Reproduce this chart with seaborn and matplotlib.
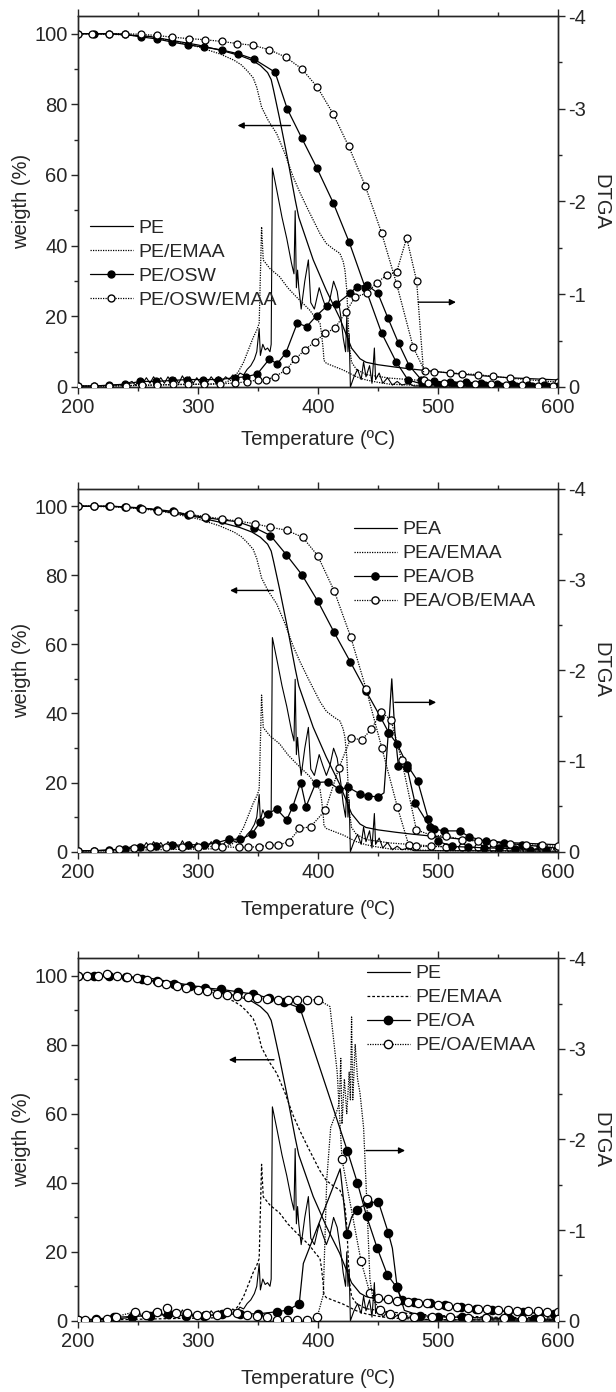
import matplotlib
matplotlib.use("Agg")
import matplotlib.pyplot as plt
from matplotlib.lines import Line2D
from matplotlib.ticker import MultipleLocator
import seaborn as sns

sns.set_style("ticks")
plt.rcParams['font.family'] = ['Liberation Sans', 'DejaVu Sans']
plt.rcParams['font.size'] = 14.5

# ---------------- shared reference curves (PE / PEA and PE/EMAA) ----------------
pe_w_T = [200,230,260,280,300,320,335,345,352,358,361,363,368,375,381,384,390,396,407,418,428,435,440,450,465,480,500,520,560,600]
pe_w = [100,99.9,99.2,98,96.8,95.2,93.8,92.5,91,89,87,84,76,64,53,48,42,36,27.3,19.6,11,8,7,6.3,5.6,5,4.3,3.6,2.6,2]

pe_d_T = [200,215,230,240,245,248,251,254,257,260,263,266,269,272,275,278,281,284,287,290,293,296,299,302,305,308,311,314,317,320,323,326,329,332,335,
          338,341,344,347,349,351,352,354,356,358,360,361,362,366,370,374,378,380,381,382,383,384,386,
          389,392,394,397,401,404,407,410,413,416,419,421,423,424,425,426,427,
          430,433,436,438,440,443,445,447,448,451,454,458,462,466,470,475,480,500,550,600]
pe_d = [-0.01,-0.01,-0.02,-0.03,
        -0.06,-0.02,-0.08,-0.04,-0.10,-0.04,-0.11,-0.05,-0.10,-0.04,-0.11,-0.05,-0.10,-0.04,-0.12,-0.05,-0.11,-0.04,-0.10,-0.04,-0.10,-0.05,-0.11,-0.06,-0.11,-0.06,-0.11,-0.08,-0.13,-0.10,-0.15,
        -0.13,-0.19,-0.23,-0.30,-0.38,-0.63,-0.34,-0.46,-0.40,-0.42,-0.38,-0.46,-2.36,-2.10,-1.83,-1.60,-1.33,-1.22,-1.90,-1.07,-1.26,-1.07,-0.84,
        -1.14,-1.37,-0.91,-0.84,-1.07,-0.95,-0.84,-0.95,-1.14,-1.03,-0.76,-0.53,-0.38,-0.76,-0.38,-0.57,0.0,
        -0.11,-0.19,-0.08,-0.27,-0.11,-0.23,-0.04,-0.42,-0.08,-0.15,-0.04,-0.10,-0.02,-0.06,-0.02,-0.04,-0.01,-0.01,-0.01,-0.004]

emaa_w_T = [200,230,260,280,300,318,330,336,341,346,349,353,358.6,365.6,372.5,379.4,385,392,401.7,407,413,418.3,421,422.5,424,425,426,428,432,440,460,480,500,550,600]
emaa_w = [100,99.8,99.2,97.8,96.3,94.3,92.5,91.2,89.5,87.5,84.8,79.2,75.4,71.7,66,59.4,55,50,43.4,40.6,39,37.8,35.5,33,27.4,20,12,7,5,3.5,2.5,2,1.5,1,0.8]

emaa_d_T = [200,230,260,290,310,320,328,333.6,338,342,346,349,351,353,354.4,360,368,375,382,388,393,398,401.7,403,404.4,405,407,412,421,432,440,450,460,480,500,550,600]
emaa_d = [-0.008,-0.011,-0.019,-0.027,-0.03,-0.038,-0.076,-0.164,-0.267,-0.4,-0.533,-0.613,-0.686,-1.726,-1.368,-1.276,-1.189,-1.067,-0.971,-0.895,-0.83,-0.743,-0.686,-0.571,-0.4,-0.286,-0.255,-0.229,-0.183,-0.11,-0.076,-0.05,-0.03,-0.019,-0.011,-0.008,-0.004]

# ---------------- panel 1: PE/OSW, PE/OSW/EMAA ----------------
osw_w_T = [200,213,226,239,252.5,266,278.7,292,305,319.7,333.6,346.7,364.2,374.4,386.4,398.9,412.6,426,439.5,453,465,475,487,500,513,526,539,552,565,578,591]
osw_w = [100,100,100,99.8,99.1,98.5,97.6,96.8,96.2,95.4,94.3,92.8,89.1,78.7,70.5,62.1,52.2,41,28,15.3,7.2,2,0.8,0.7,0.6,0.5,0.5,0.4,0.4,0.3,0.3]
osw_d_T = [200,213,226,239,252,265,278,291,304,317,331,340,349.4,359.4,366,373.3,382.8,390.6,398.9,407.2,415,426.7,432.2,441,449.9,458.4,467.2,476,486,497,510,523,536,549,562,575,588,600]
osw_d = [-0.01,-0.01,-0.02,-0.03,-0.06,-0.06,-0.07,-0.08,-0.08,-0.08,-0.10,-0.11,-0.14,-0.30,-0.25,-0.37,-0.69,-0.65,-0.77,-0.87,-0.89,-1.01,-1.08,-1.10,-1.01,-0.74,-0.47,-0.23,-0.08,-0.06,-0.05,-0.05,-0.04,-0.03,-0.03,-0.02,-0.02,-0.015]

oswe_w_T = [200,212,226,239,252.5,265.6,278.7,292.5,305.6,319.7,332.8,346,359,373,386.3,399.4,412.5,425.6,439.3,453,465.6,479.4,489,497,510,520,533,546,560,573,587,600]
oswe_w = [100,100,100,100,99.8,99.5,99,98.6,98.3,97.8,97.2,96.7,95.5,93.4,90.1,84.9,77.4,68.1,57,43.6,29.1,11.2,4.5,4.3,4,3.8,3.5,3,2.5,2.1,1.7,1.4]
oswe_d_T = [200,213,226,240,253,266,279,292,305,318,331,341,350.3,356.7,364,373.3,380.8,389,397.5,406,414,423,431,440.6,449,457.2,465.6,473.9,482.2,488.5,492,505,518,531,544,557,570,583,596]
oswe_d = [-0.008,-0.011,-0.011,-0.015,-0.019,-0.023,-0.027,-0.03,-0.03,-0.034,-0.042,-0.057,-0.076,-0.076,-0.11,-0.183,-0.297,-0.4,-0.488,-0.579,-0.632,-0.804,-0.971,-1.01,-1.124,-1.204,-1.242,-1.608,-1.143,-0.072,-0.046,-0.038,-0.034,-0.03,-0.027,-0.023,-0.019,-0.015,-0.011]

# ---------------- panel 2: PEA/OB, PEA/OB/EMAA ----------------
ob_w_T = [200,213,226,239,252,266,279,292,307,320,333,347,360.4,373.5,386.5,400,413.4,427,440,452,459,466,474.5,483,492,497,505,518,526,540,555,570,585,600]
ob_w = [100,100,100,99.8,99.5,99,98.5,97.5,96.7,96,95.5,93.8,91.5,86,80.2,72.4,63.5,54.9,46.5,39,34.4,31.1,25,20.5,9.4,6.5,6,6,4.3,3,2.5,2,1.5,1]
ob_d_T = [200,213,226,239,252,265,278,292,305,315,326,335,344.7,351.7,358,365.6,373.9,379,385.6,390,398.3,408.6,417.8,425.3,435,442,450.3,455,458.6,461.5,464,467,474.4,480.8,493.3,500,512,525,538,551,564,577,590]
ob_d = [-0.008,-0.011,-0.019,-0.03,-0.046,-0.057,-0.069,-0.076,-0.076,-0.095,-0.137,-0.137,-0.19,-0.324,-0.419,-0.469,-0.35,-0.495,-0.762,-0.495,-0.762,-0.77,-0.686,-0.709,-0.636,-0.61,-0.606,-0.648,-1.31,-1.905,-1.333,-0.945,-0.918,-0.541,-0.274,-0.114,-0.057,-0.05,-0.042,-0.038,-0.03,-0.023,-0.019]

obe_w_T = [200,213.7,226.8,240,253,266.8,280,293,306,320,333.2,347.3,360.4,374,387.2,399.7,413.6,427.4,440,453.3,466.1,475.6,482,494,507,520,533,546,560,573,587,600]
obe_w = [100,100,100,99.7,99.2,98.7,98.3,97.6,97,96.3,95.7,94.9,93.9,93,91,85.7,75.4,62,47.2,29.9,13,1.9,1.5,1.5,1.4,1.3,1.2,1.1,1,0.9,0.8,0.7]
obe_d_T = [200,213,226,234,247,260,273,287,300,314,320,334,342,351,359.4,367,375.8,384.6,393.8,406.2,417.3,427.5,436.3,444.5,452.7,460.9,469.7,482,494,507,520,533,546,560,573,587,600]
obe_d = [-0.008,-0.011,-0.011,-0.027,-0.038,-0.046,-0.05,-0.053,-0.053,-0.057,-0.053,-0.046,-0.05,-0.053,-0.072,-0.072,-0.11,-0.255,-0.274,-0.457,-0.918,-1.257,-1.23,-1.349,-1.543,-1.448,-1.01,-0.24,-0.183,-0.171,-0.133,-0.114,-0.095,-0.084,-0.076,-0.069,-0.057]

# ---------------- panel 3: PE/OA, PE/OA/EMAA ----------------
oa_w_T = [200,213,226,240,253,266,280,293,306,319,333,346,359,372,385,424.4,432.8,440.6,449.4,457.8,465.6,470,480,493,506,519,532,545,558,571,584,597]
oa_w = [100,100,100,99.5,99,98.3,97.5,96.9,96.4,96,95.3,94.6,93.5,92.3,90.6,49.3,40,30.2,21,13.3,9.7,6,5.5,5,4.5,4,3.5,3,2.8,2.5,2.2,2]
oa_d_T = [200,215,230,245,260,275,290,305,320,335,350,365.6,375.3,384.4,387.8,418.5,421,424,428,432.2,436,441.9,450.3,458.6,462,466,472,485,500,520,540,560,580,600]
oa_d = [-0.008,-0.019,-0.038,-0.046,-0.057,-0.069,-0.057,-0.057,-0.069,-0.076,-0.076,-0.099,-0.118,-0.19,-0.632,-1.676,-1.371,-0.96,-1.143,-1.223,-1.257,-1.299,-1.314,-0.971,-0.8,-0.37,-0.114,-0.057,-0.046,-0.038,-0.03,-0.023,-0.019,-0.015]

oae_w_T = [200,207.5,216.3,224.5,232.6,240.8,249,257.1,266.3,273.5,282.6,290.4,299.6,307.7,315.9,324,332.2,341.4,349.2,357.7,366.5,374.7,382.8,391,400.1,410,416,420,435.8,443.3,450,458,466,475,483,491,500,508,516,525,533,541,550,558,566,575,583,591,600]
oae_w = [100,100,100,100.3,100,99.6,99.2,98.6,98.1,97.6,96.9,96.4,95.7,95.4,94.7,94.3,94,93.8,93.5,93.2,93,93,93,93,93,91,72,46.8,17.4,7.9,6.5,6.3,5.8,5.5,5.2,5,4.6,4.3,4,3.7,3.5,3.3,3.1,3,2.9,2.8,2.7,2.6,2.5]
oae_d_T = [200,205.8,215,224,232,247.5,256.7,265.6,273.9,282,290.6,299,307,315.5,323.9,332.2,340.6,349.4,357.2,365.6,374,382.2,390.6,399.4,404.4,
           407.3,410.6,417,418,419,420,422,424,426,427,428,429,431,433,435,438,440.6,443.3,446,452,460,470,480,495,510,525,540,555,570,585,600]
oae_d = [-0.008,-0.008,-0.011,-0.019,-0.046,-0.099,-0.061,-0.099,-0.137,-0.084,-0.084,-0.061,-0.061,-0.061,-0.091,-0.088,-0.061,-0.05,-0.042,-0.008,-0.008,-0.008,-0.008,-0.042,-0.286,
         -1.554,-2.133,-2.362,-2.476,-2.895,-2.171,-2.667,-2.286,-2.743,-2.438,-3.352,-2.438,-3.048,-2.667,-2.514,-2.133,-1.341,-0.457,-0.229,-0.114,-0.076,-0.057,-0.046,-0.038,-0.038,-0.034,-0.03,-0.027,-0.023,-0.019,-0.015]

x_ticks = [200, 300, 400, 500, 600]
w_ticks = [0, 20, 40, 60, 80, 100]
d_ticks = [-4, -3, -2, -1, 0]

DOT = (0, (1, 1))
DASH3 = (0, (2.2, 1.6))
FS = 14.5


def draw(ax, T, v, ls='-', marker=None, face='black', ms=5.0, skip=None, lw=0.9, z=2):
    kw = dict(x=T, y=v, ax=ax, color='black', linewidth=lw, linestyle=ls,
              sort=False, estimator=None, legend=False, zorder=z)
    if marker:
        kw.update(marker=marker, markersize=ms, markerfacecolor=face,
                  markeredgecolor='black', markeredgewidth=0.9)
        if skip:
            kw['markevery'] = [not any(lo < t < hi for lo, hi in skip) for t in T]
    sns.lineplot(**kw)


fig = plt.figure(figsize=(6.16, 13.92), dpi=100)
positions = [[0.1266, 0.7220, 0.7792, 0.2665],
             [0.1266, 0.3882, 0.7792, 0.2606],
             [0.1266, 0.0512, 0.7792, 0.2604]]

panels = [
    dict(labels=['PE', 'PE/EMAA', 'PE/OSW', 'PE/OSW/EMAA'],
         fw=(osw_w_T, osw_w, None), fd=(osw_d_T, osw_d, None),
         ow=(oswe_w_T, oswe_w, None), od=(oswe_d_T, oswe_d, None),
         ems=DOT, ms=5.0, leg=(0.025, 0.452),
         larrow=((377, 74), (333, 74)), rarrow=((483.6, 24), (515, 24)), xl=-0.116),
    dict(labels=['PEA', 'PEA/EMAA', 'PEA/OB', 'PEA/OB/EMAA'],
         fw=(ob_w_T, ob_w, None), fd=(ob_d_T, ob_d, [(453, 458), (460, 466)]),
         ow=(obe_w_T, obe_w, None), od=(obe_d_T, obe_d, None),
         ems=DOT, ms=5.2, leg=(0.575, 0.912),
         larrow=((362.7, 75.6), (326.7, 75.6)), rarrow=((464, 43.2), (498.5, 43.2)), xl=-0.133),
    dict(labels=['PE', 'PE/EMAA', 'PE/OA', 'PE/OA/EMAA'],
         fw=(oa_w_T, oa_w, None),
         fd=(oa_d_T, oa_d, [(386, 423.5), (427, 431), (435, 440), (461, 464), (470, 475)]),
         ow=(oae_w_T, oae_w, [(405, 418)]),
         od=(oae_d_T, oae_d, [(402, 439.5), (441.5, 448)]),
         ems=DASH3, ms=6.0, leg=(0.602, 0.982),
         larrow=((363.3, 75.6), (325.7, 75.6)), rarrow=((440, 49.3), (472.6, 49.3)), xl=-0.133),
]

for pos, p in zip(positions, panels):
    ax = fig.add_axes(pos)
    ax2 = ax.twinx()
    ems = p['ems']
    ms = p['ms']

    # weight curves (left axis)
    draw(ax, pe_w_T, pe_w, ls='-')
    draw(ax, emaa_w_T, emaa_w, ls=ems)
    T, v, sk = p['fw']
    draw(ax, T, v, ls='-', marker='o', face='black', ms=ms, skip=sk)
    T, v, sk = p['ow']
    draw(ax, T, v, ls=DOT, marker='o', face='white', ms=ms, skip=sk, z=3)

    # DTGA curves (right axis)
    draw(ax2, pe_d_T, pe_d, ls='-', lw=0.8)
    draw(ax2, emaa_d_T, emaa_d, ls=ems)
    T, v, sk = p['fd']
    draw(ax2, T, v, ls='-', marker='o', face='black', ms=ms, skip=sk)
    T, v, sk = p['od']
    draw(ax2, T, v, ls=DOT, marker='o', face='white', ms=ms, skip=sk, z=3)

    ax.set_xlim(200, 600)
    ax.set_ylim(0, 105)
    ax2.set_ylim(0, -4)
    ax.set_xticks(x_ticks)
    ax.set_yticks(w_ticks)
    ax2.set_yticks(d_ticks)
    ax.xaxis.set_minor_locator(MultipleLocator(50))
    ax.yaxis.set_minor_locator(MultipleLocator(10))
    ax2.yaxis.set_minor_locator(MultipleLocator(0.5))
    ax2.set_yticklabels(['-4', '-3', '-2', '-1', '0'])

    for a in (ax, ax2):
        for s in a.spines.values():
            s.set_visible(True)
            s.set_linewidth(1.0)
    ax.tick_params(axis='x', which='both', direction='out', top=True, labeltop=False,
                   bottom=True, labelsize=FS, width=1.0, pad=3)
    ax.tick_params(axis='x', which='major', length=5)
    ax.tick_params(axis='x', which='minor', length=3)
    ax.tick_params(axis='y', which='major', direction='out', length=5, width=1.0, labelsize=FS, pad=2.5)
    ax.tick_params(axis='y', which='minor', direction='out', length=3, width=1.0)
    ax2.tick_params(axis='y', which='major', direction='out', length=5, width=1.0, labelsize=FS, pad=2.5)
    ax2.tick_params(axis='y', which='minor', direction='out', length=3, width=1.0)

    ax.set_xlabel('Temperature (ºC)', fontsize=FS)
    ax.xaxis.set_label_coords(0.5, p['xl'])
    ax.set_ylabel('weigth (%)', fontsize=FS)
    ax.yaxis.set_label_coords(-0.098, 0.5)
    ax2.set_ylabel('DTGA', fontsize=FS, rotation=270, va='center')
    ax2.yaxis.set_label_coords(1.09, 0.5)

    # arrows pointing to the relevant axis
    for (start, end) in (p['larrow'], p['rarrow']):
        ax.annotate('', xy=end, xytext=start,
                    arrowprops=dict(arrowstyle='-|>', color='black', lw=1.0,
                                    mutation_scale=9, shrinkA=0, shrinkB=0))

    handles = [Line2D([], [], color='black', lw=0.9, ls='-'),
               Line2D([], [], color='black', lw=0.9, ls=ems),
               Line2D([], [], color='black', lw=0.9, ls='-', marker='o', ms=ms,
                      markerfacecolor='black', markeredgecolor='black'),
               Line2D([], [], color='black', lw=0.9, ls=DOT, marker='o', ms=ms,
                      markerfacecolor='white', markeredgecolor='black')]
    ax2.legend(handles, p['labels'], loc='upper left', bbox_to_anchor=p['leg'],
               frameon=False, fontsize=14, handlelength=2.2, handletextpad=0.3,
               labelspacing=0.33, borderpad=0, borderaxespad=0, numpoints=1)

fig.savefig('out.png', dpi=100)
